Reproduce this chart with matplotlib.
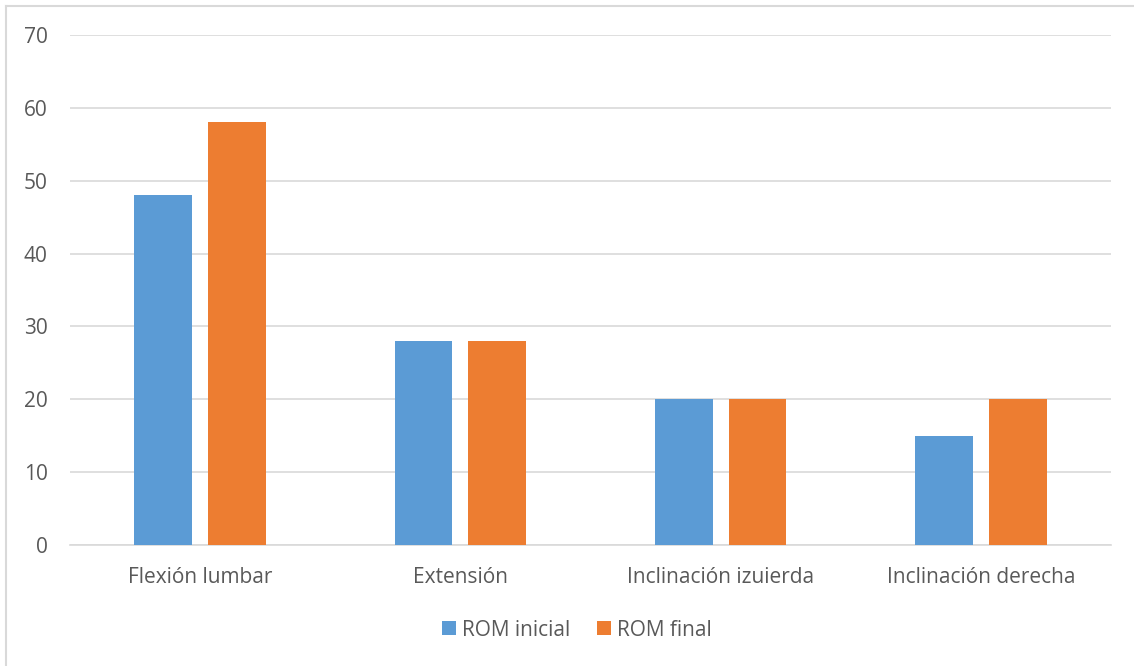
import matplotlib
matplotlib.use('Agg')

import matplotlib.pyplot as plt
from matplotlib.lines import Line2D
import numpy as np

categories = ["Flexión lumbar", "Extensión", "Inclinación izuierda", "Inclinación derecha"]
rom_inicial = [48, 28, 20, 15]
rom_final = [58, 28, 20, 20]
series_names = ["ROM inicial", "ROM final"]

c_blue = "#5B9BD5"
c_orange = "#ED7D31"
c_text = "#595959"
c_grid = "#D9D9D9"

plt.rcParams['font.family'] = ['Open Sans', 'DejaVu Sans']

fig = plt.figure(figsize=(11.34, 6.66), dpi=100)
ax = fig.add_axes([70 / 1134, 1 - 545 / 666, 1041 / 1134, 510 / 666])

x = np.arange(len(categories))
width = 0.222
offset = 0.142
b1 = ax.bar(x - offset, rom_inicial, width, color=c_blue, label=series_names[0], zorder=3)
b2 = ax.bar(x + offset, rom_final, width, color=c_orange, label=series_names[1], zorder=3)

ax.set_xlim(-0.5, len(categories) - 0.5)
ax.set_ylim(0, 70)
ax.set_yticks(range(0, 71, 10))
ax.grid(axis='y', color=c_grid, linewidth=1.2, zorder=0)
ax.set_axisbelow(True)

for side in ['top', 'right', 'left']:
    ax.spines[side].set_visible(False)
ax.spines['bottom'].set_color(c_grid)
ax.spines['bottom'].set_linewidth(1.2)

ax.set_xticks(x)
ax.set_xticklabels(categories)
ax.tick_params(axis='both', length=0, labelsize=15, labelcolor=c_text)
ax.tick_params(axis='x', pad=16)
ax.tick_params(axis='y', pad=16)

fig.legend(handles=[b1, b2], loc='center', bbox_to_anchor=(577 / 1134, 1 - 630 / 666),
           ncol=2, frameon=False, fontsize=15, labelcolor=c_text,
           handlelength=0.65, handleheight=0.65, handletextpad=0.3, columnspacing=1.3)

# light frame around the chart area
fig.add_artist(Line2D([6 / 1134, 6 / 1134], [0, 1 - 6 / 666], color=c_grid, linewidth=1.5))
fig.add_artist(Line2D([6 / 1134, 1], [1 - 6 / 666, 1 - 6 / 666], color=c_grid, linewidth=1.5))

fig.savefig("out.png", dpi=100, facecolor='white')
